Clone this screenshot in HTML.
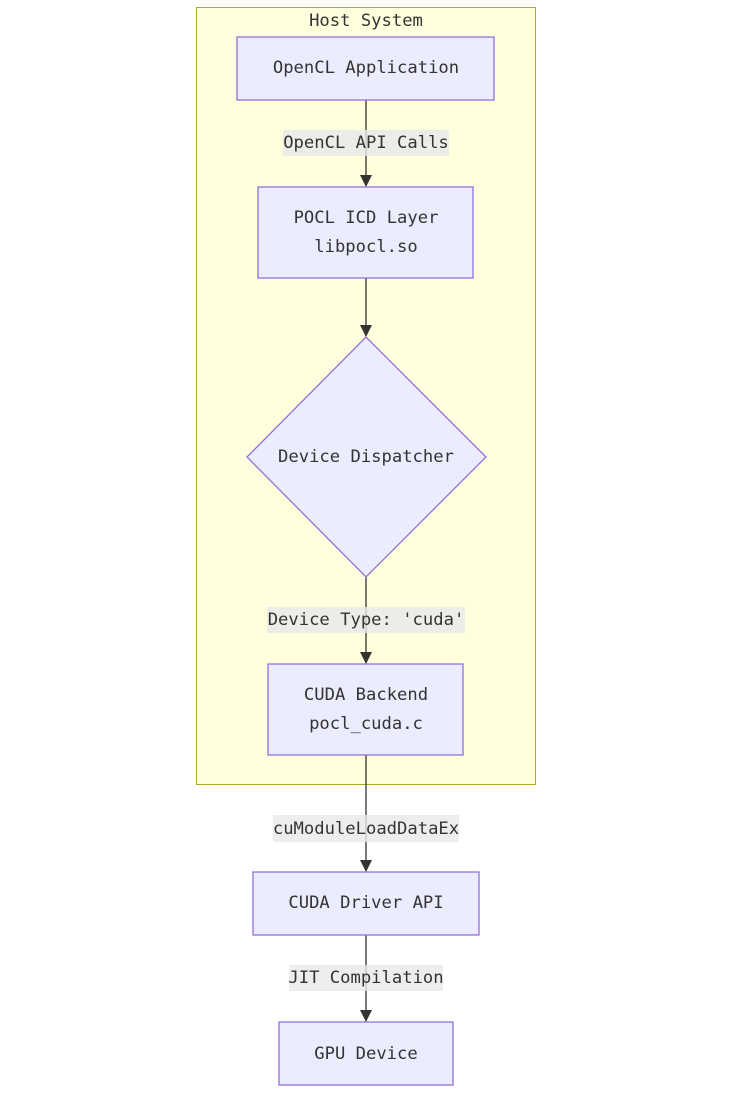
<!DOCTYPE html>
<html><head><meta charset="utf-8"><style>
html,body{margin:0;padding:0;background:#fff;}
svg{display:block;}
text{font-family:"DejaVu Sans Mono","Liberation Mono",monospace;font-size:17.2px;fill:#333;text-anchor:middle;dominant-baseline:central;}
.n{fill:#ECECFF;stroke:#9370DB;stroke-width:1.3;}
.l{fill:rgba(232,232,232,0.8);}
.e{stroke:#333;stroke-width:1.3;fill:none;}
</style></head><body>
<svg width="741" height="1096" viewBox="0 0 741 1096">
<defs><marker id="a" markerWidth="12" markerHeight="12" refX="11" refY="6" orient="auto" markerUnits="userSpaceOnUse"><path d="M0,0 L12,6 L0,12 z" fill="#333"/></marker></defs>
<rect x="196.5" y="7.5" width="339" height="777" fill="#FFFFDE" stroke="#AAAA33" stroke-width="1"/>
<text x="366" y="21">Host System</text>
<line class="e" x1="366" y1="100" x2="366" y2="186" marker-end="url(#a)"/>
<line class="e" x1="366" y1="278" x2="366" y2="336" marker-end="url(#a)"/>
<line class="e" x1="366" y1="577" x2="366" y2="663" marker-end="url(#a)"/>
<line class="e" x1="366" y1="755" x2="366" y2="871" marker-end="url(#a)"/>
<line class="e" x1="366" y1="935" x2="366" y2="1021" marker-end="url(#a)"/>
<rect class="n" x="237" y="37" width="257" height="63"/>
<text x="366" y="68">OpenCL Application</text>
<rect class="l" x="283" y="130" width="166" height="26"/>
<text x="366" y="143">OpenCL API Calls</text>
<rect class="n" x="258" y="187" width="215" height="91"/>
<text x="366" y="218">POCL ICD Layer</text>
<text x="366" y="247">libpocl.so</text>
<polygon class="n" points="366,337 486,457 366,577 247,457"/>
<text x="366" y="457">Device Dispatcher</text>
<rect class="l" x="267" y="607" width="198" height="26"/>
<text x="366" y="620">Device Type: 'cuda'</text>
<rect class="n" x="268" y="664" width="195" height="91"/>
<text x="366" y="695">CUDA Backend</text>
<text x="366" y="724">pocl_cuda.c</text>
<rect class="l" x="273" y="815" width="186" height="27"/>
<text x="366" y="829">cuModuleLoadDataEx</text>
<rect class="n" x="253" y="872" width="226" height="63"/>
<text x="366" y="903">CUDA Driver API</text>
<rect class="l" x="289" y="965" width="154" height="26"/>
<text x="366" y="978">JIT Compilation</text>
<rect class="n" x="279" y="1022" width="174" height="63"/>
<text x="366" y="1054">GPU Device</text>
</svg>
</body></html>
